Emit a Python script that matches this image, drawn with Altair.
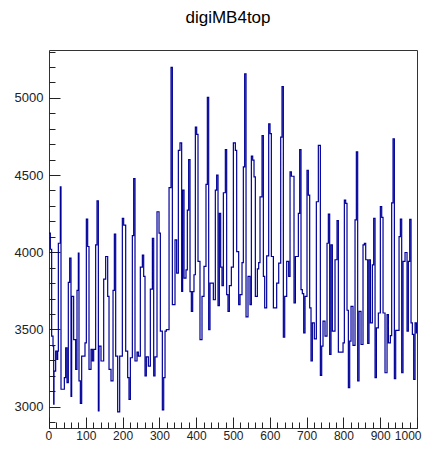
import altair as alt
import pandas as pd

title_text = "digiMB4top"

# left edges of the histogram steps (x) and the bin contents (y)
x_edges = [
    0, 3.6, 7.2, 10.9, 12.7, 13.6, 18.1, 21.7, 23.6, 25.4, 30.8, 32.6, 41.7, 45.3, 48.9,
    52.5, 56.2, 59.8, 61.6, 67.0, 72.5, 76.1, 79.7, 81.5, 85.2, 88.8, 97.8, 101.5, 105.1,
    108.7, 114.2, 117.8, 121.4, 126.8, 130.5, 134.1, 135.9, 141.3, 148.6, 154.0, 159.5,
    163.1, 168.5, 174.0, 177.6, 181.2, 186.6, 192.1, 199.3, 202.9, 208.4, 213.8, 217.4,
    221.1, 226.5, 230.1, 233.7, 239.2, 242.8, 248.2, 253.7, 257.3, 260.9, 264.5, 270.0,
    275.4, 280.9, 284.5, 288.1, 293.5, 299.0, 302.6, 308.0, 311.7, 315.3, 318.9, 326.2,
    331.6, 335.2,
    342.4, 346.9, 351.5, 356.0, 360.5, 363.2, 366.9, 372.3, 375.9, 379.5, 383.2, 386.8,
    390.4, 394.0, 397.7, 401.3, 404.9, 410.3, 415.8, 421.2, 426.6, 430.3, 433.9, 437.5,
    446.6, 452.0, 455.6, 459.3, 462.9, 466.5, 470.1, 473.8, 479.2, 482.8, 486.4, 490.1,
    495.5, 501.0, 506.4, 510.0, 515.4, 519.1, 524.5, 528.1, 531.7, 535.4, 540.8, 546.2,
    549.9, 553.5, 557.1, 560.7, 566.2, 569.8, 573.4, 578.9, 582.5, 586.1, 591.5, 597.0,
    600.6, 604.2, 609.7, 618.7, 624.2, 629.6, 633.2, 636.8, 640.5, 645.9, 651.3, 655.0,
    658.6, 665.8, 669.5,
    677.6, 681.2, 684.8, 688.4, 692.1, 695.7, 701.1, 704.7, 708.4, 712.0, 715.6, 721.0,
    726.5, 731.9, 737.4, 741.0, 744.6, 750.0, 755.5, 759.1, 762.7, 766.3, 770.0, 777.2,
    782.7, 786.3, 799.0, 802.6, 806.2, 809.8, 813.5, 817.1, 820.7, 826.1, 831.6, 835.2,
    838.8, 842.5, 847.9, 853.3, 857.0, 860.6, 866.0, 869.6, 873.3, 878.7, 882.3, 886.0,
    889.6, 895.0, 900.4, 904.1, 907.7, 913.1, 918.6, 922.2, 927.6, 931.2, 934.9, 938.5,
    942.1, 951.2, 954.8, 958.4, 962.0, 967.5, 972.9, 976.5, 980.2, 983.8, 987.4, 991.0,
    994.7, 998.3,
]
counts = [
    4123, 4019, 3456, 3391, 3015, 3230, 3359, 3305, 3359, 4058, 4424, 3112, 3187, 3380, 3155,
    3804, 3961, 3065, 3714, 3434, 3241, 3753, 3994, 3166, 3021, 3327, 3413, 4215, 4037,
    3241, 3370, 3295, 3370, 4047, 4333, 2972, 3391, 3295, 3826, 3972, 3714,
    3241, 3166, 3753, 4118, 3327, 2965, 3327, 4219, 4176, 3359, 3187, 3047,
    3316, 4108, 4477, 3295, 3353, 3327, 3903, 3982, 3843, 3198, 3322, 3262,
    3761, 4090, 3198, 3322, 4262, 4123, 3488, 2978, 3187, 3488, 3499, 4419,
    5198, 3660,
    4080, 3865, 4660, 4708, 3746, 4402, 3832, 3886, 4273, 4600, 3744, 3617,
    3744, 3854, 4811, 4763, 3940, 3434, 3714, 3908, 4439, 5004, 3499, 3800,
    3692, 4402, 4499, 3654, 4252, 3903, 3783, 4385, 4665, 3725, 3617, 3783,
    3903, 4708, 4660, 4004, 3660, 3725, 3933, 4553, 5155, 3581, 3843, 3660,
    4622, 4596, 4488, 3714, 3892, 3933, 4359, 4755, 3843, 3639, 3976, 4832,
    4768, 3972, 3639, 3800, 3929, 4746, 5073, 3449, 3714, 3940, 3843, 4520,
    4492, 3671, 3972,
    4252, 4665, 3757, 3731, 3477, 3714, 4531, 4370, 3639, 3295, 3542, 3439,
    4327, 4692, 3202, 3391, 3553, 3456, 4058, 4247, 3338, 4047, 3488, 3951,
    4204, 3353, 3413, 4338, 4316, 3624, 3123, 3424, 3649, 3396, 4209, 4650,
    3166, 3617, 3402, 4047, 4058, 3951, 3409, 3951, 3542, 3918, 4219, 3187,
    3510, 3606, 4295, 4226, 3606, 3219, 3596, 3413, 3460, 4320, 4735, 3181,
    3493, 4101, 4215, 3219, 3940, 3998, 3488, 3940, 4213, 3542, 3467, 3176,
    3542, 3477,
]

x_major = list(range(0, 1001, 100))
x_minor = list(range(0, 1001, 20))
y_major = [3000, 3500, 4000, 4500, 5000]
y_minor = list(range(2900, 5301, 100))
x_domain = [0, 1000]
y_domain = [2861, 5310]

df = pd.DataFrame({"x": x_edges + [1000], "y": counts + [counts[-1]]})

font = "Liberation Sans"
xs = alt.Scale(domain=x_domain, nice=False, zero=False)
ys = alt.Scale(domain=y_domain, nice=False, zero=False)

major = alt.Chart(df).mark_line(
    interpolate="step-after", color="#000099", strokeWidth=1.2, clip=True
).encode(
    x=alt.X("x:Q", scale=xs, axis=alt.Axis(
        orient="bottom", values=x_major, format="d", offset=-11, tickSize=11,
        labelPadding=2, domain=False, grid=False, title=None, labelFont=font,
        labelFontSize=12, labelColor="#222", tickColor="#222", labelFlush=True,
        labelFlushOffset=4, labelOverlap=False)),
    y=alt.Y("y:Q", scale=ys, axis=alt.Axis(
        orient="left", values=y_major, format="d", offset=-11, tickSize=11,
        labelPadding=6, domain=False, grid=False, title=None, labelFont=font,
        labelFontSize=13, labelColor="#222", tickColor="#222", labelFlush=False,
        labelOverlap=False)),
)

minor = alt.Chart(df).mark_line(opacity=0).encode(
    x=alt.X("x:Q", scale=xs, axis=alt.Axis(
        orient="bottom", values=x_minor, offset=-6, tickSize=6, labels=False,
        domain=False, grid=False, title=None, tickColor="#222")),
    y=alt.Y("y:Q", scale=ys, axis=alt.Axis(
        orient="left", values=y_minor, offset=-6, tickSize=6, labels=False,
        domain=False, grid=False, title=None, tickColor="#222")),
)

chart = alt.layer(major, minor).resolve_axis(
    x="independent", y="independent"
).properties(
    width=368,
    height=378,
    autosize=alt.AutoSizeParams(type="none"),
    padding={"left": 41, "top": 42, "right": 5, "bottom": 15},
    title=alt.TitleParams(title_text, font=font, fontSize=17, fontWeight="normal",
                          anchor="middle", offset=23, dx=-5, color="#000"),
).configure_view(stroke="#333", strokeWidth=1)

chart.save("out.html", embed_options={"renderer": "svg", "actions": False})
